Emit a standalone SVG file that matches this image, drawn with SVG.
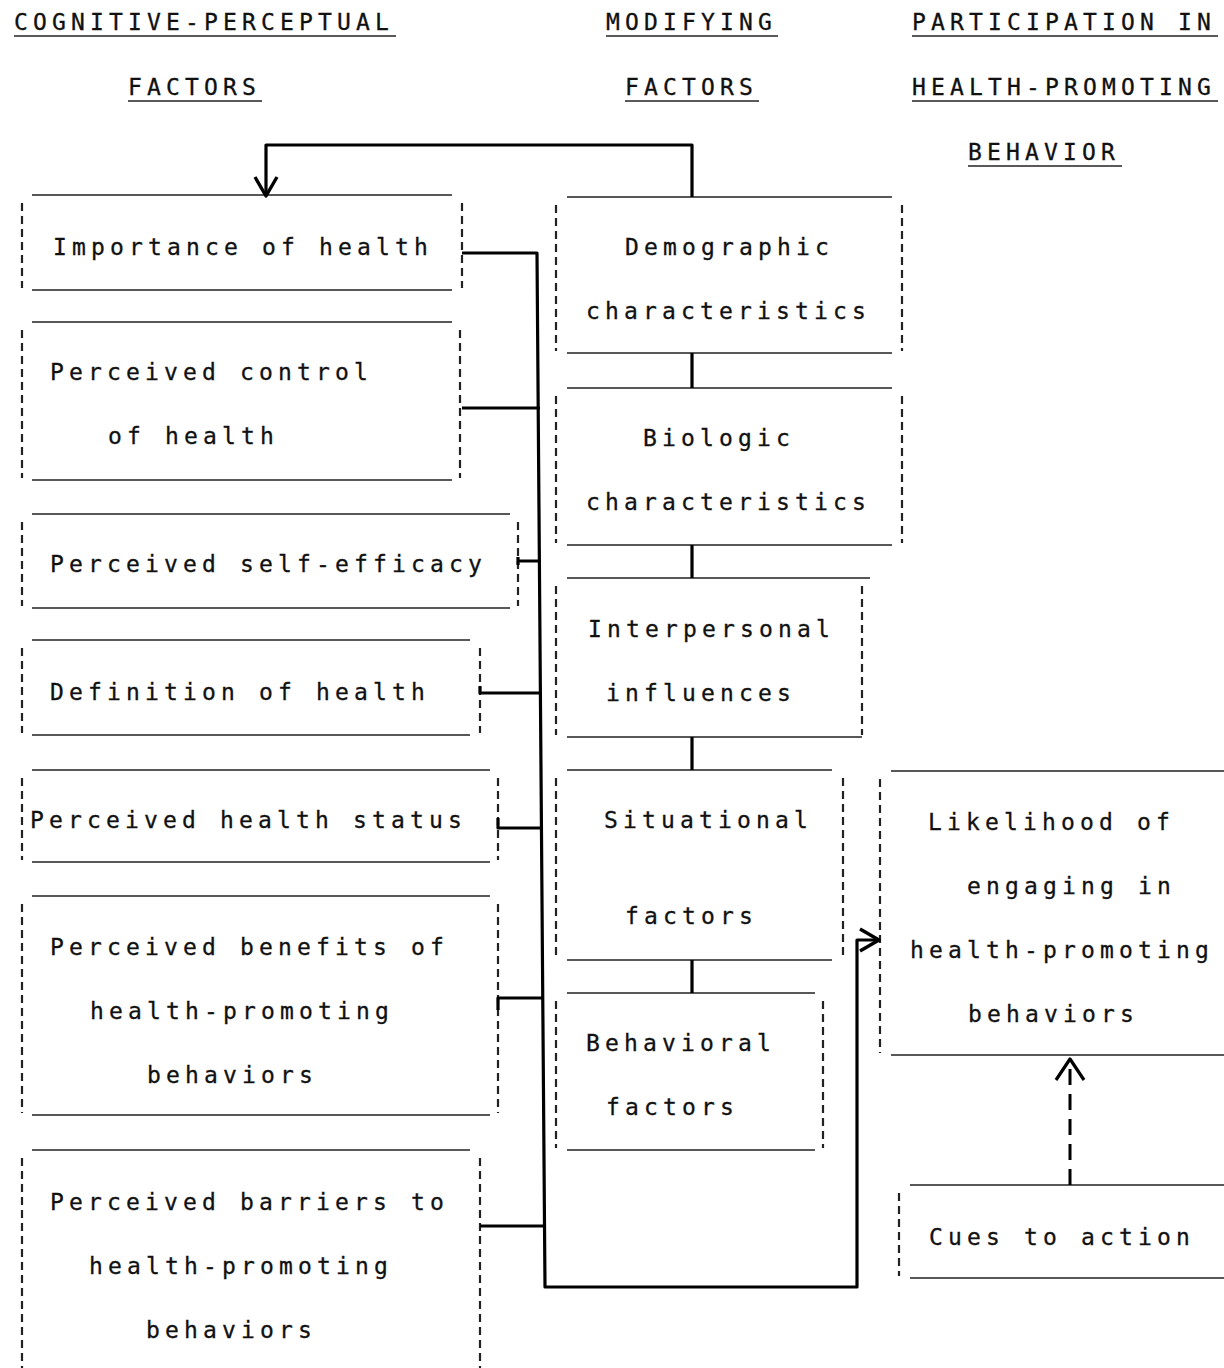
<svg xmlns="http://www.w3.org/2000/svg" width="1224" height="1368" viewBox="0 0 1224 1368">
<defs>
<style>
text{font-family:"DejaVu Sans Mono","Liberation Mono",monospace;font-size:23px;letter-spacing:5.15px;fill:#111;stroke:#111;stroke-width:0.3}
.h{stroke:#222;stroke-width:1.6;fill:none}
.s{stroke:#222;stroke-width:2.2;stroke-dasharray:8 5;fill:none}
.u{stroke:#222;stroke-width:1.6}
.c{stroke:#000;stroke-width:3.2;fill:none;stroke-linejoin:round}
.d{stroke:#000;stroke-width:3;fill:none;stroke-dasharray:16 9}
</style>
<marker id="arr" viewBox="0 0 26 26" refX="23" refY="13" markerWidth="26" markerHeight="26" markerUnits="userSpaceOnUse" orient="auto">
<path d="M4,2 L23,13 L4,24" fill="none" stroke="#000" stroke-width="3.4" stroke-linejoin="round"/>
</marker>
</defs>
<rect width="1224" height="1368" fill="#fff"/>
<g id="headers">
<text x="14" y="30">COGNITIVE-PERCEPTUAL</text><line class="u" x1="14" y1="36" x2="396" y2="36"/>
<text x="128" y="95">FACTORS</text><line class="u" x1="128" y1="101" x2="262" y2="101"/>
<text x="606" y="30">MODIFYING</text><line class="u" x1="606" y1="36" x2="778" y2="36"/>
<text x="625" y="95">FACTORS</text><line class="u" x1="625" y1="101" x2="759" y2="101"/>
<text x="912" y="30">PARTICIPATION IN</text><line class="u" x1="912" y1="36" x2="1218" y2="36"/>
<text x="912" y="95">HEALTH-PROMOTING</text><line class="u" x1="912" y1="101" x2="1218" y2="101"/>
<text x="968" y="160">BEHAVIOR</text><line class="u" x1="968" y1="166" x2="1122" y2="166"/>
</g>
<g id="importance">
<path class="h" d="M32,195H452M32,290H452"/><path class="s" d="M22,203V288M462,203V288"/>
<text x="53" y="255">Importance of health</text>
</g>
<g id="control">
<path class="h" d="M32,322H452M32,480H452"/><path class="s" d="M22,330V478M460,330V478"/>
<text x="50" y="380">Perceived control</text><text x="108" y="444">of health</text>
</g>
<g id="selfefficacy">
<path class="h" d="M32,514H510M32,608H510"/><path class="s" d="M22,522V606M518,522V606"/>
<text x="50" y="572">Perceived self-efficacy</text>
</g>
<g id="definition">
<path class="h" d="M32,640H470M32,735H470"/><path class="s" d="M22,648V733M480,648V733"/>
<text x="50" y="700">Definition of health</text>
</g>
<g id="status">
<path class="h" d="M32,770H490M32,862H490"/><path class="s" d="M22,778V860M498,778V860"/>
<text x="30" y="828">Perceived health status</text>
</g>
<g id="benefits">
<path class="h" d="M32,896H490M32,1115H490"/><path class="s" d="M22,904V1113M498,904V1113"/>
<text x="50" y="955">Perceived benefits of</text><text x="90" y="1019">health-promoting</text><text x="147" y="1083">behaviors</text>
</g>
<g id="barriers">
<path class="h" d="M32,1150H470"/><path class="s" d="M22,1158V1368M480,1158V1368"/>
<text x="50" y="1210">Perceived barriers to</text><text x="89" y="1274">health-promoting</text><text x="146" y="1338">behaviors</text>
</g>
<g id="demographic">
<path class="h" d="M567,197H892M567,353H892"/><path class="s" d="M556,205V351M902,205V351"/>
<text x="625" y="255">Demographic</text><text x="586" y="319">characteristics</text>
</g>
<g id="biologic">
<path class="h" d="M567,388H892M567,545H892"/><path class="s" d="M556,396V543M902,396V543"/>
<text x="643" y="446">Biologic</text><text x="586" y="510">characteristics</text>
</g>
<g id="interpersonal">
<path class="h" d="M567,578H870M567,737H862"/><path class="s" d="M556,586V735M862,586V735"/>
<text x="588" y="637">Interpersonal</text><text x="606" y="701">influences</text>
</g>
<g id="situational">
<path class="h" d="M567,770H832M567,960H832"/><path class="s" d="M556,778V958M843,778V958"/>
<text x="604" y="828">Situational</text><text x="625" y="924">factors</text>
</g>
<g id="behavioral">
<path class="h" d="M567,993H815M567,1150H815"/><path class="s" d="M556,1001V1148M823,1001V1148"/>
<text x="586" y="1051">Behavioral</text><text x="606" y="1115">factors</text>
</g>
<g id="likelihood">
<path class="h" d="M891,771H1224M891,1055H1224"/><path class="s" d="M880,779V1053"/>
<text x="928" y="830">Likelihood of</text><text x="967" y="894">engaging in</text><text x="910" y="958">health-promoting</text><text x="968" y="1022">behaviors</text>
</g>
<g id="cues">
<path class="h" d="M910,1185H1224M910,1278H1224"/><path class="s" d="M899,1193V1276"/>
<text x="929" y="1245">Cues to action</text>
</g>
<g id="connectors">
<path class="c" d="M692,197V145H266V196" marker-end="url(#arr)"/>
<path class="c" d="M462,253H537L545,1287H857V940H879" marker-end="url(#arr)"/>
<path class="c" d="M462,408H540"/>
<path class="c" d="M518,557V565M518,561H540"/>
<path class="c" d="M480,686V693H541"/>
<path class="c" d="M498,818V828H542"/>
<path class="c" d="M498,1010V998H543"/>
<path class="c" d="M480,1226H545"/>
<path class="c" d="M692,353V388M692,545V578M692,737V770M692,960V993"/>
<path class="d" d="M1070,1185V1064"/>
<path class="c" d="M1056,1080L1070,1059L1084,1080"/>
</g>
</svg>
